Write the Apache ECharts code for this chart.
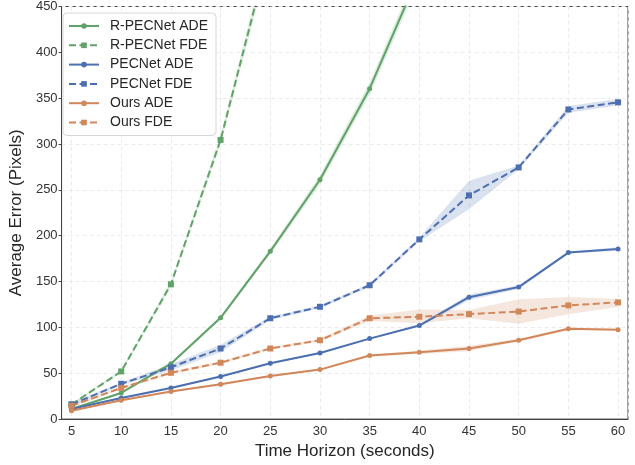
<!DOCTYPE html>
<html lang="en">
<head>
    <meta charset="UTF-8">
    <title>Average Error vs Time Horizon</title>
    <script src="https://cdn.jsdelivr.net/npm/echarts@6/dist/echarts.min.js"></script>
</head>
<body style="margin:0">
<div id="first" style="width: 635px;height:465px;"></div>

<script type="text/javascript">
    // time horizons (seconds)
    var horizons = [5, 10, 15, 20, 25, 30, 35, 40, 45, 50, 55, 60];

    // R-PECNet (leaves the plot above 450)
    var rpecAde   = [11, 28.5, 60.4, 110.5, 183, 261, 360.4, 486, null, null, null, null];
    var rpecAdeLo = [10, 27.5, 59, 108.5, 180, 256, 354, 478, null, null, null, null];
    var rpecAdeHi = [12, 29.5, 62, 112.5, 186, 266, 367, 494, null, null, null, null];
    var rpecFde   = [16, 52, 147, 304.5, 515, null, null, null, null, null, null, null];
    var rpecFdeLo = [15, 50.5, 144, 300, 505, null, null, null, null, null, null, null];
    var rpecFdeHi = [17, 53.5, 150, 309, 525, null, null, null, null, null, null, null];

    // PECNet
    var pecAde   = [11, 23, 34, 46.5, 61, 72, 87.8, 102, 133, 144, 181.6, 185.5];
    var pecAdeLo = [10.5, 22, 33, 45.5, 60, 71, 86.8, 100.8, 129.5, 142, 180.5, 183.5];
    var pecAdeHi = [11.5, 24, 35, 47.5, 62, 73, 88.8, 103.2, 136, 146, 182.7, 187.5];
    var pecFde   = [16, 38.5, 56.5, 77, 110, 122.5, 146, 196, 244, 274.5, 337.7, 345.5];
    var pecFdeLo = [14, 37, 53, 73, 108, 121, 144, 194, 229, 272.5, 334, 342];
    var pecFdeHi = [18, 40, 60, 81, 112, 124, 148, 198, 260, 276.5, 341.5, 349];

    // Ours
    var oursAde   = [9, 20.5, 30, 38, 47, 54, 69.3, 72.9, 77, 86, 98.5, 97.4];
    var oursAdeLo = [8.5, 19.5, 29, 37, 46, 53, 68, 71, 74, 84.5, 97, 96.5];
    var oursAdeHi = [9.5, 21.5, 31, 39, 48, 55, 70.5, 74.5, 80, 87.5, 100, 98.5];
    var oursFde   = [14.5, 34, 50.5, 61.5, 77, 86, 110, 111.6, 114.5, 117.3, 124, 127.3];
    var oursFdeLo = [13, 32.5, 49, 60, 75.5, 84.5, 107, 104.5, 110, 104, 114.4, 122.3];
    var oursFdeHi = [16, 35.5, 52, 63, 78.5, 87.5, 113, 119.4, 119, 130.8, 133.3, 131];

    var GREEN = '#60a268', BLUE = '#4c6fb0', ORANGE = '#d2875a';
    var FONT = '"Liberation Sans", Arial, sans-serif';

    function pairs(vals) {
        return horizons.map(function (x, i) { return [x, vals[i]]; });
    }

    // confidence band drawn as one polygon through the axis scales
    function band(lo, hi, color) {
        return {
            type: 'custom', silent: true, clip: true, z: 1,
            data: [0],
            renderItem: function (params, api) {
                var top = [], bottom = [];
                for (var i = 0; i < horizons.length; i++) {
                    if (lo[i] == null || hi[i] == null) continue;
                    top.push(api.coord([horizons[i], hi[i]]));
                    bottom.unshift(api.coord([horizons[i], lo[i]]));
                }
                return {
                    type: 'polygon',
                    shape: {points: top.concat(bottom)},
                    style: {fill: color, opacity: 0.2}
                };
            }
        };
    }

    function line(name, vals, color, dashed) {
        return {
            name: name, type: 'line', data: pairs(vals), z: 3,
            color: color,
            symbol: dashed ? 'rect' : 'circle',
            symbolSize: dashed ? 6 : 5,
            showAllSymbol: true,
            lineStyle: {width: 2, color: color, type: dashed ? [7, 3.5] : 'solid'},
            itemStyle: {color: color}
        };
    }

    var series = [
        band(rpecAdeLo, rpecAdeHi, GREEN), line('R-PECNet ADE', rpecAde, GREEN, false),
        band(rpecFdeLo, rpecFdeHi, GREEN), line('R-PECNet FDE', rpecFde, GREEN, true),
        band(pecAdeLo, pecAdeHi, BLUE), line('PECNet ADE', pecAde, BLUE, false),
        band(pecFdeLo, pecFdeHi, BLUE), line('PECNet FDE', pecFde, BLUE, true),
        band(oursAdeLo, oursAdeHi, ORANGE), line('Ours ADE', oursAde, ORANGE, false),
        band(oursFdeLo, oursFdeHi, ORANGE), line('Ours FDE', oursFde, ORANGE, true)
    ];

    var myChart = echarts.init(document.getElementById('first'));

    myChart.setOption({
        animation: false,
        textStyle: {fontFamily: FONT},
        grid: {
            left: 57, right: 7, top: 6, bottom: 37,
            show: true, borderColor: '#444', borderWidth: 1
        },
        legend: {
            data: ['R-PECNet ADE', 'R-PECNet FDE', 'PECNet ADE', 'PECNet FDE', 'Ours ADE', 'Ours FDE'],
            orient: 'vertical',
            left: 63, top: 13,
            padding: [6, 8, 6, 5],
            itemGap: 5.3,
            itemWidth: 30, itemHeight: 7,
            backgroundColor: '#fff',
            borderColor: '#d6d6d6', borderWidth: 1, borderRadius: 4,
            textStyle: {fontSize: 14, lineHeight: 14, color: '#262626', fontFamily: FONT, padding: [0, 0, 0, 6]}
        },
        xAxis: {
            type: 'value',
            min: 4, max: 61,
            splitNumber: 11,
            name: 'Time Horizon (seconds)',
            nameLocation: 'middle',
            nameGap: 18,
            nameTextStyle: {fontSize: 17, color: '#262626'},
            axisLine: {lineStyle: {color: '#444'}},
            axisTick: {show: false},
            axisLabel: {fontSize: 13, color: '#333', margin: 6, showMinLabel: false, showMaxLabel: false},
            splitLine: {show: true, lineStyle: {color: '#ebebeb', type: [4, 3]}}
        },
        yAxis: {
            type: 'value',
            min: 0, max: 450, interval: 50,
            name: 'Average Error (Pixels)',
            nameLocation: 'middle',
            nameGap: 30,
            nameTextStyle: {fontSize: 17, color: '#262626'},
            axisLine: {show: true, lineStyle: {color: '#444'}},
            axisTick: {show: true, length: 3, lineStyle: {color: '#444'}},
            axisLabel: {fontSize: 13, color: '#333', margin: 4},
            splitLine: {show: true, lineStyle: {color: '#ebebeb', type: [4, 3]}}
        },
        series: series
    });
</script>
</body>
</html>
